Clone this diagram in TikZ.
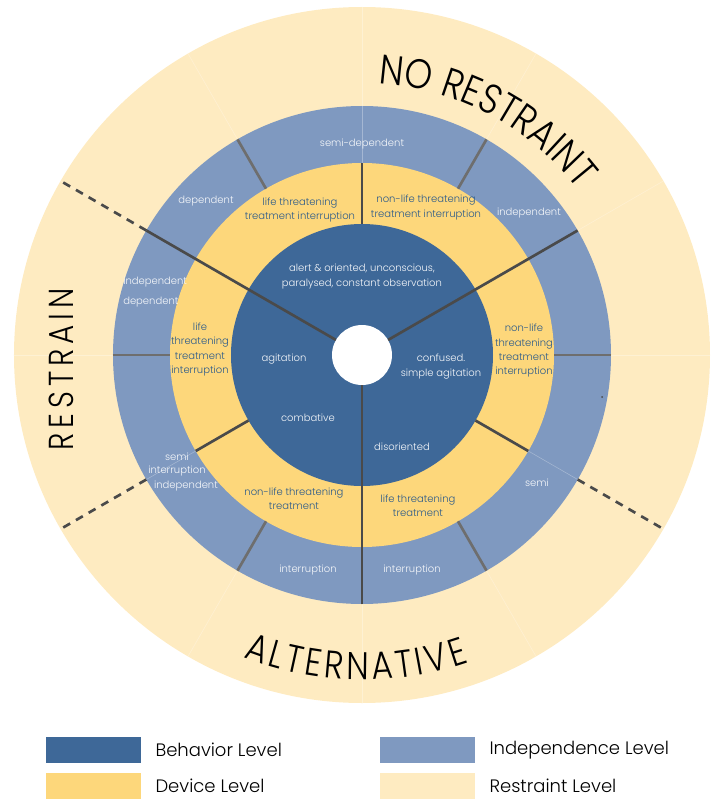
\documentclass[tikz,border=0pt]{standalone}
\usepackage{fontspec}
\setmainfont{Poppins Light}
\newfontfamily\capsfont{Poppins Light}[FakeStretch=0.85]
\newfontfamily\spacedcaps{Poppins Light}[FakeStretch=0.85, LetterSpace=14]
\usetikzlibrary{positioning,decorations.text}

\definecolor{behavior}{HTML}{3E6898}
\definecolor{independence}{HTML}{7F99C0}
\definecolor{device}{HTML}{FDD77B}
\definecolor{restraint}{HTML}{FEEBC1}
\definecolor{labelblue}{HTML}{2B5A8A}
\definecolor{divider}{HTML}{4A4A4A}
\definecolor{softdivider}{HTML}{6E6E6E}

\begin{document}
\begin{tikzpicture}[x=0.75pt, y=0.75pt,
    behaviorlabel/.style={text=white!95!behavior, font=\fontsize{7.5}{11.25}\selectfont, align=center, inner sep=0pt},
    devicelabel/.style={text=labelblue, font=\fontsize{7.5}{10.75}\selectfont, align=center, inner sep=0pt},
    independencelabel/.style={text=white!92!independence, font=\fontsize{7.5}{10.75}\selectfont, align=center, inner sep=0pt},
    spoke/.style={draw=divider, line width=2pt},
    subspoke/.style={draw=softdivider, line width=2pt},
    faintspoke/.style={draw=white, line width=0.4pt, opacity=0.3},
    legendbox/.style={rectangle, minimum width=71.25pt, minimum height=19.5pt, inner sep=0pt},
    legendtext/.style={font=\fontsize{13.5}{15}\selectfont, inner sep=0pt}, node distance=10.5pt]
    \useasboundingbox (-362,-445) rectangle (359,355);

    % the four levels
    \fill[restraint] (0,0) circle[radius=348];
    \fill[independence] (0,0) circle[radius=249];
    \fill[device] (0,0) circle[radius=192];
    \fill[behavior] (0,0) circle[radius=131];

    % dividers
    \foreach \a in {0,30,...,330} \draw[faintspoke] (\a:192) -- (\a:348);
    \foreach \a in {0,60,...,300} \draw[subspoke] (\a:192) -- (\a:249);
    \foreach \a in {90,210,330} \draw[spoke] (\a:131) -- (\a:192);
    \foreach \a in {30,150,270} \draw[spoke] (\a:30) -- (\a:249);
    \foreach \a in {150,210,330} \draw[spoke, dash pattern=on 6pt off 5pt] (\a:249) -- (\a:348);
    \fill[white] (0,0) circle[radius=30];
    \fill[divider] (240,-42) circle[radius=1];

    % behavior level
    \node[behaviorlabel] (alert) at (0,78.5) {alert \& oriented, unconscious,\\paralysed, constant observation};
    \node[behaviorlabel] (agitation) at (-78,-4) {agitation};
    \node[behaviorlabel] (confused) at (79,-12) {confused.\\simple agitation};
    \node[behaviorlabel] (combative) at (-54,-63) {combative};
    \node[behaviorlabel] (disoriented) at (40,-92) {disoriented};

    % device level
    \node[devicelabel] (lifetop) at (-62,145) {life threatening\\treatment interruption};
    \node[devicelabel] (nonlifetop) at (64,147.5) {non-life threatening\\treatment interruption};
    \node[devicelabel] (lifeleft) at (-162,5.5) {life\\threatening\\treatment\\interruption};
    \node[devicelabel] (nonliferight) at (162,4) {non-life\\threatening\\treatment\\interruption};
    \node[devicelabel] (nonlifebottom) at (-68,-143.5) {non-life threatening\\treatment};
    \node[devicelabel] (lifebottom) at (56,-150.5) {life threatening\\treatment};

    % independence level
    \node[independencelabel] (semitop) at (0,211) {semi-dependent};
    \node[independencelabel] (depleft) at (-156,154) {dependent};
    \node[independencelabel] (indepright) at (167,142) {independent};
    \node[independencelabel, align=left, anchor=west, font=\fontsize{7.5}{15}\selectfont] (indepleft) at (-239,63) {independent\\dependent};
    \node[independencelabel] (semileft) at (-185,-102) {semi};
    \node[independencelabel] (interleft) at (-185,-116) {interruption};
    \node[independencelabel] (indeplow) at (-176,-131) {independent};
    \node[independencelabel] (interbottomleft) at (-54,-215) {interruption};
    \node[independencelabel] (interbottomright) at (50,-215) {interruption};
    \node[independencelabel] (semiright) at (175,-128) {semi};

    % restraint level
    \path[decorate, decoration={text along path, text align=center,
        text={|\capsfont\fontsize{31}{31}\selectfont|NO RESTRAINT}}]
        (88:272) arc[start angle=88, end angle=36, radius=272];
    \path[decorate, decoration={text along path, text align=fit to path,
        text={|\capsfont\fontsize{29}{29}\selectfont|ALTERNATIVE}}]
        (248.6:325) arc[start angle=248.6, end angle=289.2, radius=325];
    \node[rotate=90, inner sep=0pt, font=\spacedcaps\fontsize{26}{26}\selectfont] (restrain) at (-301,-14.5) {RESTRAIN};

    % legend
    \node[legendbox, fill=behavior] (behaviorbox) at (-268.5,-395) {};
    \node[legendbox, fill=device] (devicebox) at (-268.5,-431) {};
    \node[legendbox, fill=independence] (independencebox) at (65.5,-395) {};
    \node[legendbox, fill=restraint] (restraintbox) at (65.5,-431) {};
    \node[legendtext, right=of behaviorbox] (behaviortext) {Behavior Level};
    \node[legendtext, right=of devicebox] (devicetext) {Device Level};
    \node[legendtext, right=of independencebox] (independencetext) {Independence Level};
    \node[legendtext, right=of restraintbox] (restrainttext) {Restraint Level};
\end{tikzpicture}
\end{document}
